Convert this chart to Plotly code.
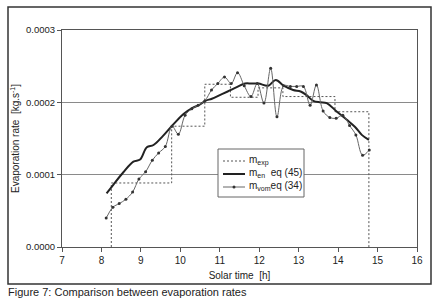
import plotly.graph_objects as go

# ---- data (evaporation rates in units of 1e-4 kg/s) ----
exp_time = [8.25, 8.25, 9.78, 10.62, 11.27, 11.97, 12.60, 13.92, 14.78, 14.78]
exp_rate_e4 = [0.0, 0.885, 1.67, 2.25, 2.07, 2.20, 2.08, 1.87, 1.87, 0.0]

en_time = [8.13, 8.30, 8.55, 8.81, 8.98, 9.15, 9.32, 9.55, 9.78, 10.08, 10.30,
           10.50, 10.63, 10.80, 11.00, 11.20, 11.43, 11.64, 11.80, 11.98, 12.23,
           12.42, 12.62, 12.86, 13.05, 13.20, 13.37, 13.55, 13.71, 13.97, 14.22,
           14.43, 14.60, 14.78]
en_rate_e4 = [0.74, 0.86, 1.03, 1.18, 1.21, 1.38, 1.41, 1.53, 1.67, 1.84, 1.92,
              1.97, 2.02, 2.05, 2.10, 2.15, 2.21, 2.26, 2.26, 2.26, 2.23,
              2.31, 2.23, 2.17, 2.15, 2.10, 2.02, 2.00, 1.99, 1.87, 1.76,
              1.66, 1.55, 1.48]

vom_time = [8.12, 8.29, 8.45, 8.62, 8.79, 8.95, 9.12, 9.29, 9.45, 9.62, 9.79,
            9.95, 10.12, 10.29, 10.45, 10.62, 10.79, 10.95, 11.12, 11.29, 11.45,
            11.62, 11.79, 11.95, 12.12, 12.29, 12.45, 12.62, 12.79, 12.95, 13.12,
            13.29, 13.45, 13.62, 13.79, 13.95, 14.12, 14.29, 14.45, 14.62, 14.79]
vom_rate_e4 = [0.40, 0.55, 0.60, 0.66, 0.76, 0.94, 1.04, 1.20, 1.30, 1.39, 1.67,
               1.56, 1.82, 1.91, 1.96, 2.02, 2.17, 2.26, 2.35, 2.26, 2.41,
               2.23, 2.08, 2.26, 1.99, 2.47, 1.80, 2.23, 2.22, 2.22, 2.22,
               1.96, 2.24, 1.88, 1.79, 1.78, 1.82, 1.68, 1.55, 1.27, 1.34]

series_names = ["m<sub>exp</sub>", "m<sub>en</sub>  eq (45)", "m<sub>vom</sub>eq (34)"]

y_ticks = [0.0, 0.0001, 0.0002, 0.0003]
x_ticks = [7, 8, 9, 10, 11, 12, 13, 14, 15, 16]

scale = 1e-4
FONT = "Liberation Sans, Arial, sans-serif"

exp_line = dict(color="#555555", width=1, dash="2px,2px")
en_line = dict(color="#222222", width=2)
vom_line = dict(color="#666666", width=1)

fig = go.Figure()
fig.add_trace(go.Scatter(
    x=exp_time, y=[v * scale for v in exp_rate_e4], mode="lines",
    line=dict(**exp_line, shape="hv"), name=series_names[0]))
fig.add_trace(go.Scatter(
    x=en_time, y=[v * scale for v in en_rate_e4], mode="lines",
    line=dict(**en_line, shape="spline"), name=series_names[1]))
fig.add_trace(go.Scatter(
    x=vom_time, y=[v * scale for v in vom_rate_e4], mode="lines+markers",
    line=dict(**vom_line, shape="spline"),
    marker=dict(color="#333333", size=3), name=series_names[2]))

L, R, T, B = 62, 21, 30, 52
W, H = 438, 299
pw, ph = W - L - R, H - T - B

def px(xp):
    return (xp - L) / pw

def py(yp):
    return (H - B - yp) / ph

# compact legend box (drawn with shapes/annotations in paper coords)
shapes = [dict(type="rect", xref="paper", yref="paper",
               x0=px(8), x1=px(431), y0=py(284), y1=py(7),
               line=dict(color="#333333", width=1.5), fillcolor="rgba(0,0,0,0)",
               layer="above"),
          dict(type="rect", xref="paper", yref="paper",
               x0=px(218), x1=px(304), y0=py(197), y1=py(149),
               line=dict(color="#666666", width=1), fillcolor="white",
               layer="above")]
annotations = [dict(text="Figure 7: Comparison between evaporation rates",
                    xref="paper", yref="paper", x=px(6), y=py(292),
                    xanchor="left", yanchor="middle", showarrow=False,
                    font=dict(size=11, color="#222222"))]
row_y = [161, 174, 187]
row_lines = [exp_line, en_line, vom_line]
for i, (ry, ln) in enumerate(zip(row_y, row_lines)):
    shapes.append(dict(type="line", xref="paper", yref="paper",
                       x0=px(223), x1=px(245), y0=py(ry), y1=py(ry),
                       line=ln, layer="above"))
    annotations.append(dict(text=series_names[i], xref="paper", yref="paper",
                            x=px(247), y=py(ry - 1), xanchor="left", yanchor="middle",
                            showarrow=False, font=dict(size=10, color="#222222")))
# marker dot on the vom legend sample
shapes.append(dict(type="circle", xref="paper", yref="paper",
                   x0=px(232.5), x1=px(235.5), y0=py(188.5), y1=py(185.5),
                   line=dict(color="#333333", width=0), fillcolor="#333333",
                   layer="above"))

fig.update_layout(
    width=W, height=H,
    margin=dict(l=L, r=R, t=T, b=B),
    paper_bgcolor="white", plot_bgcolor="white",
    font=dict(family=FONT, size=10, color="#222222"),
    showlegend=False,
    xaxis=dict(range=[7, 16], tickvals=x_ticks, showgrid=False,
               showline=True, linecolor="#555555", linewidth=1, mirror=True,
               ticks="outside", ticklen=4, tickcolor="#555555",
               title=dict(text="Solar time  [h]", font=dict(size=10), standoff=6),
               zeroline=False, automargin=False),
    yaxis=dict(range=[0, 0.0003], tickvals=y_ticks, tickformat=".4f",
               tickfont=dict(size=9.5),
               showgrid=True, gridcolor="#8a8a8a", gridwidth=1,
               showline=True, linecolor="#555555", linewidth=1, mirror=True,
               ticks="outside", ticklen=4, tickcolor="#555555",
               title=dict(text="Evaporation rate  [kg.s<sup>-1</sup>]", font=dict(size=10), standoff=4),
               zeroline=False, automargin=False),
    shapes=shapes,
    annotations=annotations,
)

fig.write_html("out.html", config={"displayModeBar": False},
               post_script="document.body.style.margin='0px';document.body.style.padding='0px';")
